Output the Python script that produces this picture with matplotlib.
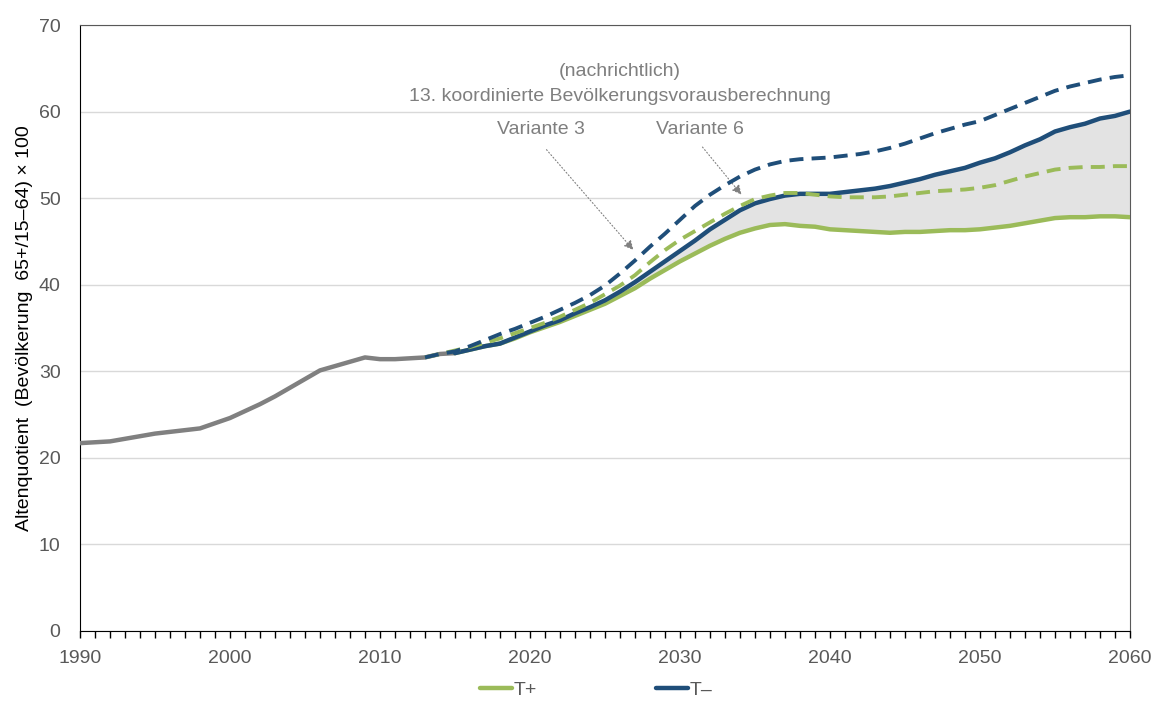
import matplotlib.pyplot as plt
import numpy as np

plt.rcParams['font.family'] = ['Liberation Sans', 'DejaVu Sans']

# Historical values 1990-2015
hist_years = list(range(1990, 2016))
hist = [21.7, 21.8, 21.9, 22.2, 22.5, 22.8, 23.0, 23.2, 23.4, 24.0,
        24.6, 25.4, 26.2, 27.1, 28.1, 29.1, 30.1, 30.6, 31.1, 31.6,
        31.4, 31.4, 31.5, 31.6, 32.0, 32.1]

# Projections T+ / T- 2015-2060
proj_years = list(range(2015, 2061))
t_minus = [32.1, 32.5, 32.9, 33.2, 33.9, 34.6, 35.3, 35.9, 36.7, 37.4,
           38.2, 39.2, 40.3, 41.5, 42.7, 43.9, 45.1, 46.4, 47.5, 48.6,
           49.4, 49.9, 50.3, 50.5, 50.5, 50.5, 50.7, 50.9, 51.1, 51.4,
           51.8, 52.2, 52.7, 53.1, 53.5, 54.1, 54.6, 55.3, 56.1, 56.8,
           57.7, 58.2, 58.6, 59.2, 59.5, 60.0]
t_plus = [32.1, 32.5, 32.9, 33.2, 33.8, 34.5, 35.1, 35.7, 36.4, 37.1,
          37.8, 38.7, 39.6, 40.7, 41.7, 42.7, 43.6, 44.5, 45.3, 46.0,
          46.5, 46.9, 47.0, 46.8, 46.7, 46.4, 46.3, 46.2, 46.1, 46.0,
          46.1, 46.1, 46.2, 46.3, 46.3, 46.4, 46.6, 46.8, 47.1, 47.4,
          47.7, 47.8, 47.8, 47.9, 47.9, 47.8]

# 13. koordinierte Bevoelkerungsvorausberechnung, 2013-2060
var_years = list(range(2013, 2061))
variante3 = [31.6, 32.0, 32.3, 32.9, 33.6, 34.3, 34.9, 35.6, 36.3, 37.1,
             37.9, 38.8, 39.9, 41.3, 42.8, 44.4, 45.9, 47.5, 49.1, 50.4,
             51.5, 52.5, 53.3, 53.9, 54.3, 54.5, 54.6, 54.7, 54.9, 55.1,
             55.4, 55.8, 56.3, 56.9, 57.5, 58.0, 58.5, 58.9, 59.6, 60.3,
             61.0, 61.7, 62.4, 62.9, 63.3, 63.7, 64.0, 64.2]
variante6 = [31.6, 32.0, 32.4, 32.8, 33.3, 33.8, 34.4, 35.0, 35.6, 36.3,
             37.1, 37.9, 38.9, 39.9, 41.1, 42.6, 44.0, 45.2, 46.2, 47.2,
             48.2, 49.1, 49.9, 50.3, 50.6, 50.6, 50.4, 50.2, 50.1, 50.1,
             50.1, 50.2, 50.4, 50.6, 50.8, 50.9, 51.0, 51.2, 51.5, 52.0,
             52.5, 52.9, 53.3, 53.5, 53.6, 53.6, 53.7, 53.7]

green = '#9bbb59'
navy = '#1f4e79'
grey = '#808080'
txt = '#7f7f7f'
fs = 14

fig = plt.figure(figsize=(11.56, 7.01), dpi=100)
ax = fig.add_axes([0.0692, 0.0999, 0.9083, 0.8644])

ax.fill_between(proj_years, t_plus, t_minus, color='#e3e3e3', lw=0, zorder=1)
ax.plot(hist_years, hist, color=grey, lw=3.2, zorder=3, solid_capstyle='round')
ax.plot(proj_years, t_plus, color=green, lw=3.2, zorder=3, label='T+',
        solid_capstyle='round')
ax.plot(proj_years, t_minus, color=navy, lw=3.2, zorder=3, label='T\u2013',
        solid_capstyle='round')
ax.plot(var_years, variante6, color=green, lw=2.8, dashes=(3.6, 2.1), zorder=4)
ax.plot(var_years, variante3, color=navy, lw=2.8, dashes=(3.6, 2.1), zorder=4)

ax.set_xlim(1990, 2060)
ax.set_ylim(0, 70)
ax.set_xticks(range(1990, 2061, 10))
ax.set_xticks(range(1990, 2061), minor=True)
ax.set_yticks(range(0, 71, 10))
ax.tick_params(axis='x', which='both', length=5, width=1, color='black',
               labelsize=fs, labelcolor='#595959', pad=9)
ax.tick_params(axis='y', length=0, labelsize=fs, labelcolor='#595959', pad=14)
ax.yaxis.grid(True, color='#d9d9d9', lw=1)
ax.set_axisbelow(True)
for s in ['left', 'bottom']:
    ax.spines[s].set_color('black')
for s in ['top', 'right']:
    ax.spines[s].set_color('#595959')

ax.set_ylabel('Altenquotient  (Bevölkerung  65+/15\u201364) \u00d7 100',
              fontsize=fs, color='black', labelpad=4)

ax.text(2026, 64.6, '(nachrichtlich)', ha='center', va='center',
        fontsize=fs, color=txt)
ax.text(2026, 61.8, '13. koordinierte Bevölkerungsvorausberechnung',
        ha='center', va='center', fontsize=fs, color=txt)
ax.text(2020.7, 57.9, 'Variante 3', ha='center', va='center',
        fontsize=fs, color=txt)
ax.text(2031.3, 57.9, 'Variante 6', ha='center', va='center',
        fontsize=fs, color=txt)
arrow = dict(arrowstyle='-|>', color=grey, lw=0.8, linestyle=(0, (1, 2)),
             mutation_scale=14, shrinkA=0, shrinkB=0)
ax.annotate('', xy=(2026.9, 44.0), xytext=(2021.1, 55.6), arrowprops=arrow)
ax.annotate('', xy=(2034.1, 50.4), xytext=(2031.5, 55.9), arrowprops=arrow)

fig.legend(loc='lower center', bbox_to_anchor=(0.516, -0.022), ncol=2,
           frameon=False, fontsize=fs, handlelength=1.65, handletextpad=0.1,
           columnspacing=6.1, labelcolor='#595959')

fig.savefig('out.png', dpi=100)
